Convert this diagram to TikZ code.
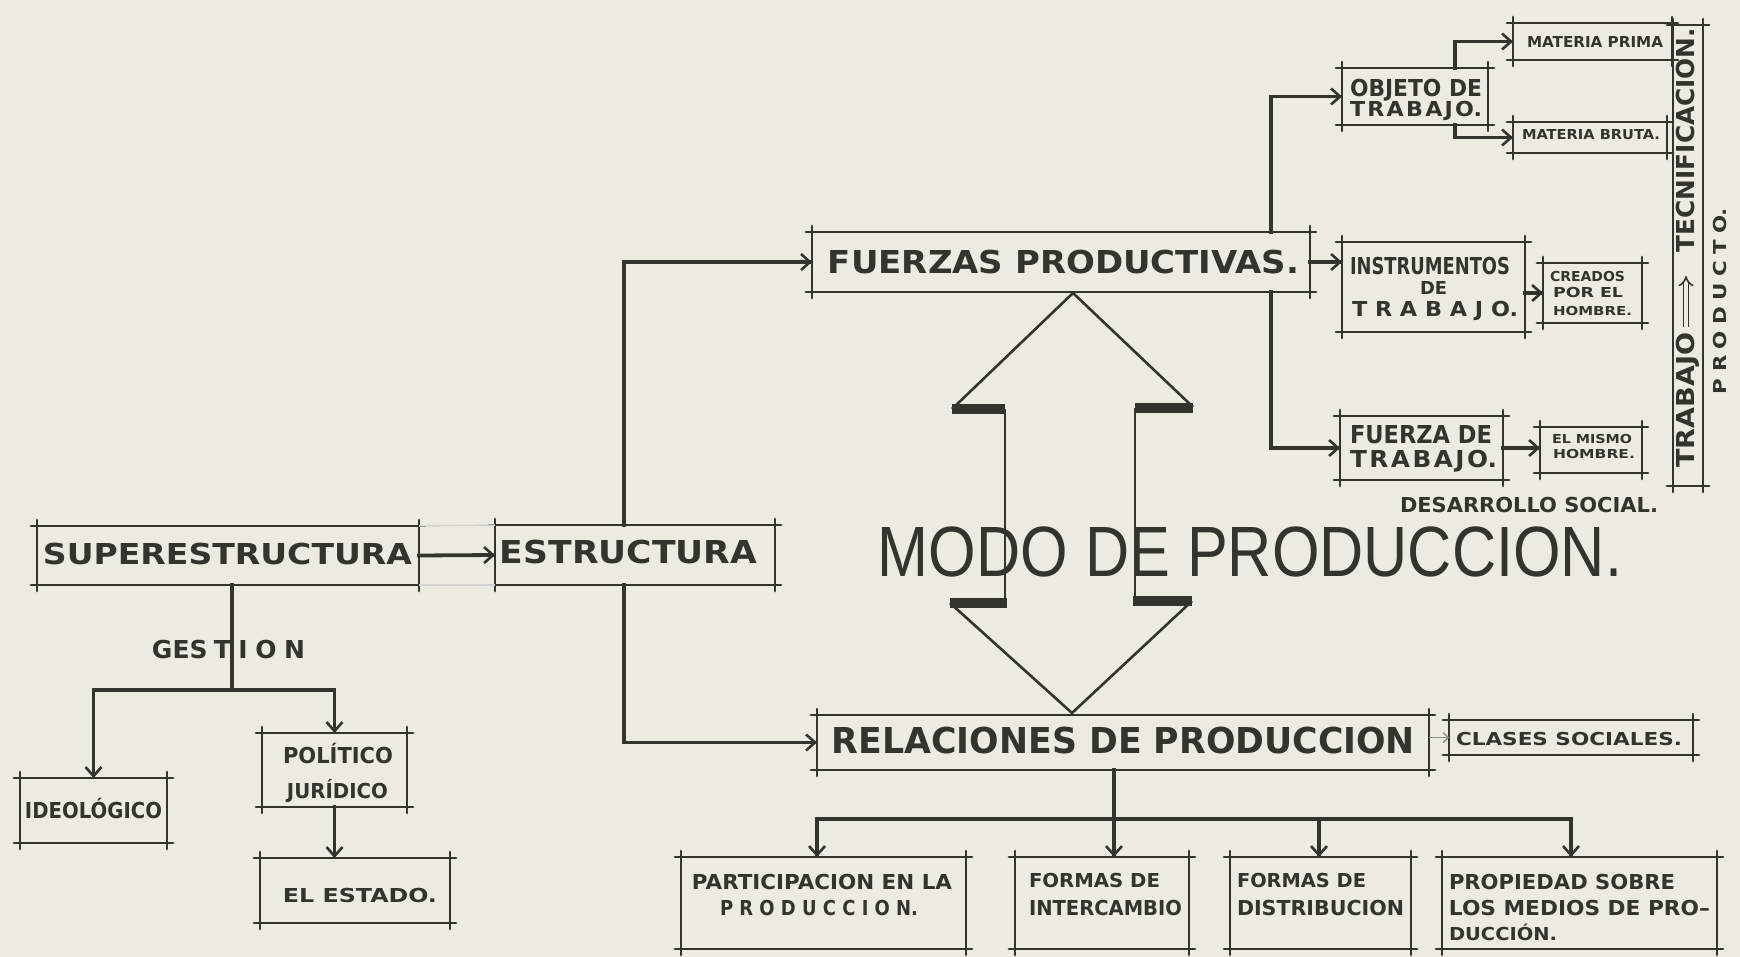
\documentclass[tikz,border=0pt]{standalone}
\usepackage{fontspec}
\usepackage{graphicx}
\usetikzlibrary{arrows.meta,fit,calc}
\setmainfont{DejaVu Sans}
\newfontfamily\modofont{Liberation Sans}
\definecolor{paper}{HTML}{ECEBE1}
\definecolor{ink}{HTML}{34342F}
\newcommand\fitx[3]{\resizebox{#1pt}{#2pt}{\smash{#3}\vphantom{H}}}
\tikzset{
  boxn/.style={inner sep=0pt, outer sep=0pt, draw=none},
  txt/.style={inner sep=0pt, outer sep=0pt, text=ink, font=\bfseries},
  frl/.style={draw=ink, line width=2.9pt, line cap=round},
  ln/.style={draw=ink, line width=3.8pt, line cap=rect},
  conn/.style={ln, -{Straight Barb[length=9pt,width=16pt,line width=2.6pt]}},
  ghost/.style={draw=ink!22, line width=1.5pt},
}
\newcommand\mybox[5]{%
  \node[boxn, fit={(#2,#3)(#4,#5)}] (#1) {};
  \draw[frl] ([xshift=-6pt]#1.north west) -- ([xshift=6pt]#1.north east);
  \draw[frl] ([xshift=-6pt]#1.south west) -- ([xshift=6pt]#1.south east);
  \draw[frl] ([yshift=6pt]#1.north west) -- ([yshift=-6pt]#1.south west);
  \draw[frl] ([yshift=6pt]#1.north east) -- ([yshift=-6pt]#1.south east);}
\newcommand\mylab[6]{\node[txt] (#1) at (#2,#3) {\fitx{#4}{#5}{#6}};}
\begin{document}
\begin{tikzpicture}[x=1pt,y=-1pt]
\useasboundingbox (0,0) rectangle (1740,957);
\fill[paper] (0,0) rectangle (1740,957);

% boxes
\mybox{SUP}{37}{526}{419}{585}
\mybox{EST}{495}{525}{775}{585}
\mybox{IDE}{20}{778}{167}{843}
\mybox{POL}{262}{733}{407}{807}
\mybox{ELE}{260}{858}{450}{923}
\mybox{FP}{812}{232}{1310}{292}
\mybox{OBJ}{1342}{68}{1488}{125}
\mybox{MP}{1513}{23}{1672}{60}
\mybox{MB}{1513}{122}{1667}{153}
\mybox{INS}{1342}{242}{1525}{332}
\mybox{CRE}{1543}{263}{1642}{323}
\mybox{FT}{1340}{416}{1503}{480}
\mybox{EM}{1540}{427}{1642}{473}
\mybox{STR}{1673}{25}{1703}{486}
\mybox{RP}{817}{715}{1429}{770}
\mybox{CS}{1449}{720}{1693}{755}
\mybox{PA}{681}{857}{966}{949}
\mybox{FI}{1015}{857}{1189}{949}
\mybox{FD}{1230}{857}{1411}{949}
\mybox{PR}{1442}{857}{1717}{949}

% faint ghost lines between SUPERESTRUCTURA and ESTRUCTURA
\draw[ghost] (SUP.north east) -- (EST.north west);
\draw[ghost] (SUP.south east) -- (EST.south west);

% coordinates
\coordinate (ex) at (624,0);
\coordinate (g) at (232,690);
\coordinate (b) at (1271,0);
\coordinate (o) at (1455,0);
\coordinate (r1) at (817,819);
\coordinate (r2) at (1114,819);
\coordinate (r3) at (1319,819);
\coordinate (r4) at (1571,819);

% connectors
\draw[conn] (SUP.east) -- (EST.west);
\draw[conn] (ex |- EST.north) |- (FP.west);
\draw[conn] (ex |- EST.south) |- (RP.west);
\draw[ln] (SUP.south -| g) -- (g);
\draw[conn] (g) -| (IDE.north);
\draw[conn] (g) -| (POL.north);
\draw[conn] (POL.south) -- (POL.south |- ELE.north);
\draw[conn] (FP.east) -- (FP.east -| INS.west);
\draw[conn] (b |- FP.north) |- (OBJ.west);
\draw[conn] (b |- FP.south) |- (FT.west);
\draw[conn] (o |- OBJ.north) |- (MP.west);
\draw[conn] (o |- OBJ.south) |- (MB.west);
\draw[conn] (INS.east |- CRE.west) -- (CRE.west);
\draw[conn] (FT.east) -- (FT.east -| EM.west);
\draw[draw=ink!55, line width=1.6pt, -{Straight Barb[length=5pt,width=10pt,line width=1.4pt]}] (RP.east |- CS.west) -- (CS.west);
\draw[ln] (RP.south -| r2) -- (r2);
\draw[ln] (r1) -- (r4);
\draw[conn] (r1) -- (r1 |- PA.north);
\draw[conn] (r2) -- (r2 |- FI.north);
\draw[conn] (r3) -- (r3 |- FD.north);
\draw[conn] (r4) -- (r4 |- PR.north);

% big double arrow
\draw[ink, line width=2.6pt, line join=miter] (952,409) -- (1073,293) -- (1193,407);
\draw[ink, line width=10pt] (952,409) -- (1005,409);
\draw[ink, line width=10pt] (1135,408) -- (1193,408);
\draw[ink, line width=2.8pt] (1005,409) -- (1005,603);
\draw[ink, line width=2.8pt] (1135,408) -- (1135,603);
\draw[ink, line width=10pt] (950,603) -- (1007,603);
\draw[ink, line width=10pt] (1133,601) -- (1192,601);
\draw[ink, line width=2.6pt, line join=miter] (950,603) -- (1072,713) -- (1192,601);

% strip arrow
\draw[ink, line width=1.6pt, double=paper, double distance=3.5pt, -{Implies}] (1686,327) -- (1686,276);

% texts
\mylab{t-sup}{227.5}{553.5}{369}{21}{SUPERESTRUCTURA}
\mylab{t-est}{628.5}{551.5}{257}{23}{ESTRUCTURA}
\mylab{t-ges}{228.5}{649}{153}{18}{GES\kern.25em T\kern.3em I\kern.3em O\kern.3em N}
\mylab{t-ide}{93.5}{810}{137}{16}{IDEOLÓGICO}
\mylab{t-pol}{338}{755}{110}{16}{POLÍTICO}
\mylab{t-jur}{337.5}{790.5}{101}{15}{JURÍDICO}
\mylab{t-ele}{360}{895}{154}{14}{EL ESTADO.}
\mylab{t-fp}{1063.5}{261.5}{471}{23}{FUERZAS PRODUCTIVAS.}
\mylab{t-obj1}{1416}{88.5}{132}{17}{OBJETO DE}
\mylab{t-obj2}{1416}{109.5}{132}{15}{T\kern.1em R\kern.1em A\kern.1em B\kern.1em A\kern.1em J\kern.1em O.}
\mylab{t-mp}{1595}{42.5}{136}{11}{MATERIA PRIMA}
\mylab{t-mb}{1591}{135}{138}{10}{MATERIA BRUTA.}
\mylab{t-ins1}{1430}{266.5}{160}{17}{INSTRUMENTOS}
\mylab{t-ins2}{1433.5}{288.5}{27}{13}{DE}
\mylab{t-ins3}{1435}{309.5}{166}{15}{T R A B A J O.}
\mylab{t-cre1}{1587.5}{277}{75}{10}{CREADOS}
\mylab{t-cre2}{1588}{293}{70}{10}{POR EL}
\mylab{t-cre3}{1592.5}{311}{79}{9}{HOMBRE.}
\mylab{t-ft1}{1421}{434}{142}{18}{FUERZA DE}
\mylab{t-ft2}{1423.5}{458.5}{147}{17}{T\kern.1em R\kern.1em A\kern.1em B\kern.1em A\kern.1em J\kern.1em O.}
\mylab{t-em1}{1592}{439}{80}{9}{EL MISMO}
\mylab{t-em2}{1594}{454}{82}{9}{HOMBRE.}
\mylab{t-des}{1529}{504.5}{258}{15}{DESARROLLO SOCIAL.}
\node[txt, rotate=90] (t-tec) at (1685,140) {\fitx{224}{18}{TECNIFICACION.}};
\node[txt, rotate=90] (t-tra) at (1685,400) {\fitx{135}{18}{TRABAJO}};
\node[txt, rotate=90] (t-pro) at (1720,301) {\fitx{186}{13}{P\kern.3em R\kern.3em O\kern.3em D\kern.3em U\kern.3em C\kern.3em T\kern.3em O.}};
\node[inner sep=0pt, text=ink, font=\modofont] (t-modo) at (1250,551.5) {\fitx{744}{49}{MODO DE PRODUCCION.}};
\mylab{t-rp}{1123.5}{740}{583}{26}{RELACIONES DE PRODUCCION}
\mylab{t-cs}{1569}{738.5}{226}{13}{CLASES SOCIALES.}
\mylab{t-pa1}{822}{881.5}{260}{15}{PARTICIPACION EN LA}
\mylab{t-pa2}{819}{907.5}{198}{15}{P R O D U C C I O N.}
\mylab{t-fi1}{1094.5}{880.5}{131}{14}{FORMAS DE}
\mylab{t-fi2}{1105.5}{907.5}{153}{15}{INTERCAMBIO}
\mylab{t-fd1}{1301.5}{880.5}{129}{14}{FORMAS DE}
\mylab{t-fd2}{1320.5}{907.5}{167}{15}{DISTRIBUCION}
\mylab{t-pr1}{1562}{881.5}{226}{15}{PROPIEDAD SOBRE}
\mylab{t-pr2}{1579.5}{907.5}{261}{15}{LOS MEDIOS DE PRO--}
\mylab{t-pr3}{1503}{933.5}{108}{13}{DUCCIÓN.}
\end{tikzpicture}
\end{document}
